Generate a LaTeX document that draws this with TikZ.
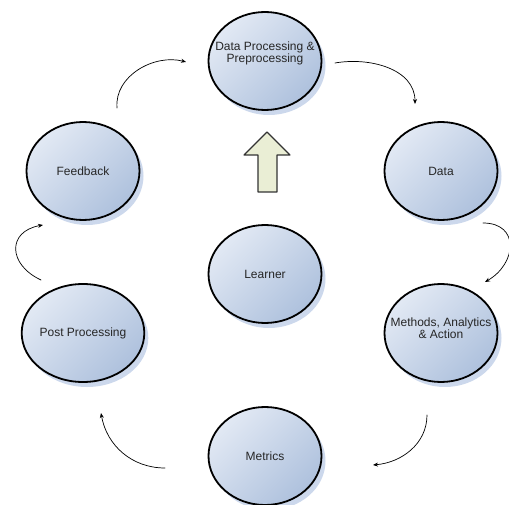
\documentclass[tikz,border=0pt]{standalone}
\usepackage{fontspec}
\setmainfont{Liberation Sans}
\usetikzlibrary{shapes.geometric,shadows,arrows.meta}
\definecolor{bubtop}{HTML}{E2E9F4}
\definecolor{bubbot}{HTML}{AEC1DD}
\definecolor{bubshade}{HTML}{CCD8EC}
\definecolor{uparrow}{HTML}{EAEED5}
\begin{document}
\begin{tikzpicture}[line join=round, line cap=round, x=1pt, y=1pt, >={Stealth[length=5pt,width=4pt]}]
		\tikzset{bub/.style={ellipse, draw, line width=1.8pt, minimum width=113pt, minimum height=98pt, inner sep=0pt,
				shading=axis, top color=bubtop, bottom color=bubbot, shading angle=45,
				drop shadow={shadow xshift=4pt, shadow yshift=-5pt, fill=bubshade, opacity=1},
				font=\fontsize{12}{11}\selectfont, text=black!85, align=center},
			txt/.style={font=\fontsize{12}{11}\selectfont, text=black!85, align=center},
			loop/.style={->, line width=0.7pt}}
		\useasboundingbox (0,0) rectangle (509,-505);
		% bubbles
		\node[bub] (dpp) at (265,-61) {};
		\node[txt] (dpptxt) at ([yshift=8pt]dpp.center) {Data Processing \&\\Preprocessing};
		\node[bub] (data) at (441,-171) {Data};
		\node[bub] (meth) at (441,-333) {};
		\node[txt] (methtxt) at ([yshift=5pt]meth.center) {Methods, Analytics\\\& Action};
		\node[bub] (metr) at (265,-456) {Metrics};
		\node[bub] (post) at (83,-333) {Post Processing};
		\node[bub] (fb) at (83,-171) {Feedback};
		\node[bub] (lrn) at (265,-274) {Learner};
		% block arrow learner -> preprocessing
		\draw[line width=1.1pt, draw=black!80, fill=uparrow] (267,-132) -- (290,-155) -- (277,-155) -- (277,-192)
			-- (258,-192) -- (258,-155) -- (244,-155) -- cycle;
		% cycle arrows
		\coordinate (a1) at (117,-108); \coordinate (b1) at (186,-62);
		\coordinate (a2) at (335,-63);  \coordinate (b2) at (415,-104);
		\coordinate (a3) at (483,-223); \coordinate (b3) at (485,-282);
		\coordinate (a4) at (427,-415); \coordinate (b4) at (373,-465);
		\coordinate (a5) at (165,-468); \coordinate (b5) at (101,-413);
		\coordinate (a6) at (41,-280);  \coordinate (b6) at (43,-225);
		\draw[loop] (a1) to[out=95, in=165] (b1);
		\draw[loop] (a2) to[out=10, in=90] (b2);
		\draw[loop] (a3) to[out=0, in=30, looseness=1.6] (b3);
		\draw[loop] (a4) to[out=-90, in=5] (b4);
		\draw[loop] (a5) to[out=180, in=-80] (b5);
		\draw[loop] (a6) to[out=155, in=190, looseness=1.7] (b6);
\end{tikzpicture}
\end{document}
